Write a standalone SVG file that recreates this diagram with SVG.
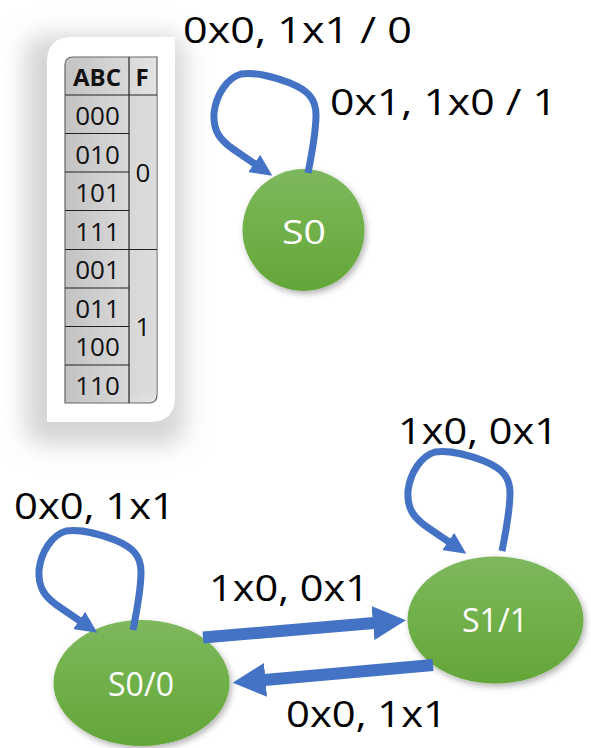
<svg xmlns="http://www.w3.org/2000/svg" width="591" height="748" viewBox="0 0 591 748">
  <defs>
    <linearGradient id="green" x1="0" y1="0" x2="0" y2="1">
      <stop offset="0" stop-color="#7db85e"/>
      <stop offset="0.5" stop-color="#70b049"/>
      <stop offset="1" stop-color="#63a639"/>
    </linearGradient>
    <linearGradient id="cell" x1="0" y1="0" x2="1" y2="0">
      <stop offset="0" stop-color="#c3c3c3"/>
      <stop offset="1" stop-color="#e3e3e3"/>
    </linearGradient>
    <filter id="nodeShadow" x="-20%" y="-20%" width="140%" height="150%">
      <feDropShadow dx="2" dy="3" stdDeviation="3" flood-color="#000" flood-opacity="0.3"/>
    </filter>
    <filter id="frameShadow" x="-40%" y="-20%" width="180%" height="140%">
      <feGaussianBlur stdDeviation="12"/>
    </filter>
    <marker id="headSmall" markerUnits="userSpaceOnUse" viewBox="0 0 22 21" markerWidth="22" markerHeight="21" refX="1" refY="10.5" orient="auto">
      <path d="M0,0 L22,10.5 L0,21 z" fill="#4472c4"/>
    </marker>
    <marker id="headBig" markerUnits="userSpaceOnUse" viewBox="0 0 33 34" markerWidth="33" markerHeight="34" refX="1" refY="17" orient="auto">
      <path d="M0,0 L33,17 L0,34 z" fill="#4472c4"/>
    </marker>
  </defs>
  <style>
    .lbl { font-family: "Open Sans", "Liberation Sans", sans-serif; font-size: 36px; fill: #000; }
    .node-text { font-family: "Open Sans", "Liberation Sans", sans-serif; font-size: 32px; fill: #fff; text-anchor: middle; }
    .cell-text { font-family: "Open Sans", "Liberation Sans", sans-serif; font-size: 26px; fill: #111; text-anchor: middle; }
    .head-text { font-family: "Open Sans", "Liberation Sans", sans-serif; font-size: 24px; font-weight: bold; fill: #111; text-anchor: middle; }
    .grid { stroke: #222; stroke-width: 1.2; fill: none; }
    .loop { fill: none; stroke: #4472c4; stroke-width: 7; stroke-linejoin: round; marker-end: url(#headSmall); }
    .straight { fill: none; stroke: #4472c4; stroke-width: 12; marker-end: url(#headBig); }
    .node { fill: url(#green); filter: url(#nodeShadow); }
  </style>

  <rect width="591" height="748" fill="#fff"/>

  <!-- Truth table panel -->
  <g id="truth-table">
    <rect x="25" y="35" width="160" height="410" rx="20" fill="#d4d4d4" filter="url(#frameShadow)"/>
    <path d="M72,37 L175,37 L175,397 Q175,422 150,422 L47,422 L47,62 Q47,37 72,37 z" fill="#fff"/>
    <path d="M73,57 L157,57 L157,395 Q157,403 149,403 L65,403 L65,65 Q65,57 73,57 z" fill="url(#cell)" stroke="#666" stroke-width="1.2"/>
    <rect x="129" y="95" width="28" height="300" fill="#d6d6d6" opacity="0.5"/>
    <line class="grid" x1="129" y1="57" x2="129" y2="403"/>
    <line class="grid" x1="65" y1="95" x2="157" y2="95"/>
    <line class="grid" x1="65" y1="133.5" x2="129" y2="133.5"/>
    <line class="grid" x1="65" y1="172" x2="129" y2="172"/>
    <line class="grid" x1="65" y1="210.5" x2="129" y2="210.5"/>
    <line class="grid" x1="65" y1="249.5" x2="157" y2="249.5"/>
    <line class="grid" x1="65" y1="288" x2="129" y2="288"/>
    <line class="grid" x1="65" y1="326.5" x2="129" y2="326.5"/>
    <line class="grid" x1="65" y1="365" x2="129" y2="365"/>
    <text class="head-text" x="97" y="86">ABC</text>
    <text class="head-text" x="142" y="86">F</text>
    <text class="cell-text" x="97.5" y="125">000</text>
    <text class="cell-text" x="97.5" y="163.5">010</text>
    <text class="cell-text" x="97.5" y="202">101</text>
    <text class="cell-text" x="97.5" y="240.5">111</text>
    <text class="cell-text" x="97.5" y="279">001</text>
    <text class="cell-text" x="97.5" y="317.5">011</text>
    <text class="cell-text" x="97.5" y="356">100</text>
    <text class="cell-text" x="97.5" y="394.5">110</text>
    <text class="cell-text" x="143" y="182">0</text>
    <text class="cell-text" x="143" y="336">1</text>
  </g>

  <!-- Nodes -->
  <g id="node-S0">
    <circle class="node" cx="303.5" cy="230" r="61"/>
    <text class="node-text" x="304" y="244" textLength="44" lengthAdjust="spacingAndGlyphs">S0</text>
  </g>
  <g id="node-S0-0">
    <ellipse class="node" cx="141.5" cy="683" rx="88" ry="63"/>
    <text class="node-text" x="141" y="696">S0/0</text>
  </g>
  <g id="node-S1-1">
    <ellipse class="node" cx="495.5" cy="620" rx="88" ry="63.5"/>
    <text class="node-text" x="495" y="631.5">S1/1</text>
  </g>

  <!-- Connectors -->
  <g id="connectors">
    <path id="loop-S0" class="loop" transform="translate(175,-457)" d="M133,630 C137,610 141,590 141,572 C141,555 132,547 115,540 C100,534 80,529 66,531 C52,535 41,552 39,570 C38,588 45,597 58,606 L80,621"/>
    <path id="loop-S0-0" class="loop" d="M133,630 C137,610 141,590 141,572 C141,555 132,547 115,540 C100,534 80,529 66,531 C52,535 41,552 39,570 C38,588 45,597 58,606 L80,621"/>
    <path id="loop-S1-1" class="loop" transform="translate(369,-79)" d="M133,630 C137,610 141,590 141,572 C141,555 132,547 115,540 C100,534 80,529 66,531 C52,535 41,552 39,570 C38,588 45,597 58,606 L80,621"/>
    <path id="edge-S0-0-to-S1-1" class="straight" d="M203,637.5 L374,623"/>
    <path id="edge-S1-1-to-S0-0" class="straight" d="M433,665 L264.5,680"/>
  </g>

  <!-- Labels -->
  <g id="labels">
    <text class="lbl" x="183" y="43" textLength="229" lengthAdjust="spacingAndGlyphs">0x0, 1x1 / 0</text>
    <text class="lbl" x="330" y="115" textLength="227" lengthAdjust="spacingAndGlyphs">0x1, 1x0 / 1</text>
    <text class="lbl" x="14" y="519" textLength="161" lengthAdjust="spacingAndGlyphs">0x0, 1x1</text>
    <text class="lbl" x="398" y="444" textLength="160" lengthAdjust="spacingAndGlyphs">1x0, 0x1</text>
    <text class="lbl" x="209" y="601" textLength="160" lengthAdjust="spacingAndGlyphs">1x0, 0x1</text>
    <text class="lbl" x="286" y="727" textLength="161" lengthAdjust="spacingAndGlyphs">0x0, 1x1</text>
  </g>
</svg>
